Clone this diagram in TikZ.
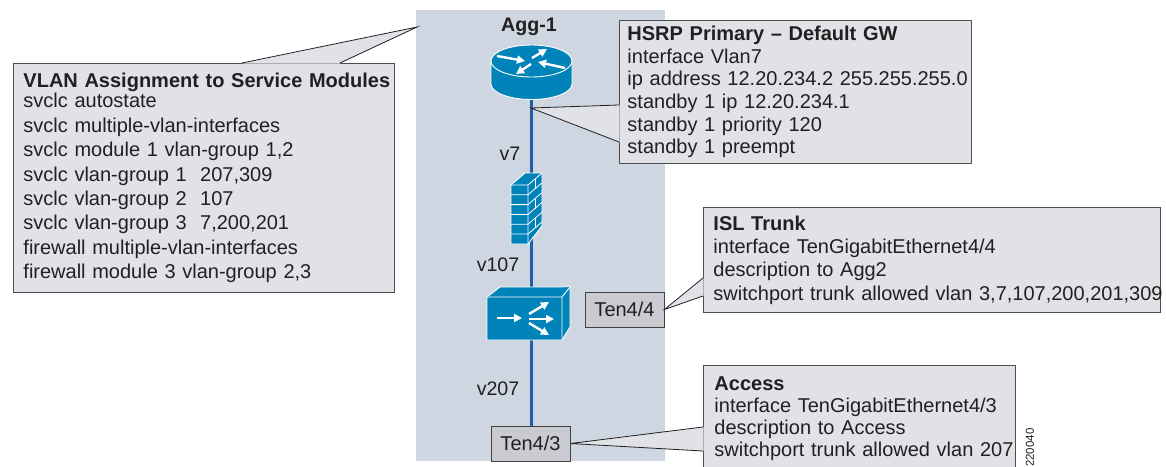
\documentclass[tikz,border=0pt]{standalone}
\usepackage{fontspec}
\setmainfont{Liberation Sans}
\usetikzlibrary{arrows.meta}
\definecolor{panelblue}{HTML}{CED6E2}
\definecolor{notegray}{HTML}{E0E2E8}
\definecolor{portgray}{HTML}{C9CBD1}
\definecolor{iconblue}{HTML}{0083B8}
\definecolor{linkblue}{HTML}{1F5FA8}
\definecolor{inkgray}{HTML}{231F20}

\begin{document}
\begin{tikzpicture}[
    x=1pt, y=-1pt, line join=miter,
    note/.style={rectangle, draw=inkgray!80, line width=0.9pt, fill=notegray, anchor=north west,
        align=left, text=inkgray, inner xsep=10pt, inner ysep=0pt, font=\fontsize{20}{23.4}\selectfont},
    port/.style={rectangle, draw=inkgray!85, line width=0.9pt, fill=portgray, text=inkgray,
        minimum width=79pt, minimum height=35pt, inner sep=0pt, font=\fontsize{20}{22}\selectfont},
    vlan/.style={text=inkgray, inner sep=0pt, font=\fontsize{19.6}{22}\selectfont},
    device/.style={rectangle, draw=none, inner sep=0pt},
    tail/.style={draw=inkgray, line width=0.8pt},
    tailfill/.style={fill=notegray},
    icon/.style={draw=white, line width=0.9pt, fill=iconblue},
    brick/.style={draw=white, line width=0.8pt},
    flow/.style={draw=white, line width=2.4pt, -{Triangle[width=8pt,length=8pt]}}
    ]
    \useasboundingbox (0,0) rectangle (1166,466);
    \fill[panelblue] (416,10) rectangle (665,461);

    \node (Agg) [vlan, font=\fontsize{19.6}{22}\bfseries\selectfont] at (529,27) {Agg-1};
    \node (Router) [device, minimum width=81pt, minimum height=55pt] at (531.5,72.5) {};
    \node (Firewall) [device, minimum width=31pt, minimum height=71pt] at (526.5,208.5) {};
    \node (Switch) [device, minimum width=83pt, minimum height=53pt] at (528.5,313.5) {};

    \node (VlanNote) [note, minimum width=381pt, minimum height=229pt, text width=361pt,
        font=\fontsize{20}{24.4}\selectfont] at (13,63) {%
        \mbox{\textbf{VLAN Assignment to Service Modules}}\\[-4pt]
        svclc autostate\\
        svclc multiple-vlan-interfaces\\
        svclc module 1 vlan-group 1,2\\
        svclc vlan-group 1\ \ 207,309\\
        svclc vlan-group 2\ \ 107\\
        svclc vlan-group 3\ \ 7,200,201\\
        firewall multiple-vlan-interfaces\\
        firewall module 3 vlan-group 2,3};
    \node (HsrpNote) [note, minimum width=352pt, minimum height=143pt, text width=336pt, inner xsep=8pt,
        font=\fontsize{20}{22.6}\selectfont] at (619,20) {%
        \textbf{HSRP Primary -- Default GW}\\
        interface Vlan7\\
        \mbox{ip address 12.20.234.2 255.255.255.0}\\
        standby 1 ip 12.20.234.1\\
        standby 1 priority 120\\
        standby 1 preempt};
    \node (IslNote) [note, minimum width=457pt, minimum height=105pt, text width=437pt] at (703,207) {%
        \textbf{ISL Trunk}\\
        interface TenGigabitEthernet4/4\\
        description to Agg2\\
        \mbox{switchport trunk allowed vlan 3,7,107,200,201,309}};
    \node (AccessNote) [note, minimum width=312pt, minimum height=106pt, text width=290pt, inner xsep=11pt,
        font=\fontsize{20}{22}\selectfont] at (703,365) {%
        \textbf{Access}\\
        interface TenGigabitEthernet4/3\\
        description to Access\\
        \mbox{switchport trunk allowed vlan 207}};

    \node (Port44) [port] at (624.5,309.5) {Ten4/4};
    \node (Port43) [port] at (530.5,443.5) {Ten4/3};

    \draw[linkblue, line width=3.6pt] (Router.center) -- (Firewall.center -| Router.center)
        -- (Switch.center -| Router.center) -- (Port43.north -| Router.center);

    \coordinate (VlanTip) at (417,27);
    \coordinate (HsrpTip) at (531,108);
    \coordinate (IslTip) at (Port44.east);
    \coordinate (AccessTip) at (Port43.east);

    % callout tails
    \fill[tailfill] (242,63.6) -- (VlanTip) -- (340,63.6) -- cycle;
    \draw[tail] (242,63) -- (VlanTip) -- (340,63);
    \fill[tailfill] (619.6,105) -- (HsrpTip) -- (619.6,142) -- cycle;
    \draw[tail] (619,105) -- (HsrpTip) -- (619,142);
    \fill[tailfill] (703.6,278) -- (IslTip) -- (703.6,296) -- cycle;
    \draw[tail] (703,278) -- (IslTip) -- (703,296);
    \fill[tailfill] (703.6,427) -- (AccessTip) -- (703.6,451) -- cycle;
    \draw[tail] (703,427) -- (AccessTip) -- (703,451);

    \node (V7) [vlan] at (510,154) {v7};
    \node (V107) [vlan] at (498,265) {v107};
    \node (V207) [vlan] at (498,389) {v207};

    % router
    \draw[icon] (491,61) -- (491,84) arc[start angle=180, end angle=360, x radius=40.5pt, y radius=15.5pt]
        -- (572,61);
    \draw[icon] (531.5,61) ellipse[x radius=40.5pt, y radius=16pt];
    \draw[flow] (497,56) -- (525,61);
    \draw[flow] (532,58) -- (547,49);
    \draw[flow] (565,68) -- (538,62);
    \draw[flow] (531,64) -- (516,74);

    % firewall
    \draw[icon] (511,185) -- (525,173) -- (542,173) -- (542,226) -- (528,244) -- (511,244) -- cycle;
    \draw[brick] (511,185) -- (528,185) -- (542,173) (528,185) -- (528,244);
    \foreach \row in {1,...,5} {
        \draw[brick] (511,185+\row*9.8) -- (528,185+\row*9.8) -- (542,173+\row*9.8);
    }
    \foreach \row in {0,2,4} {
        \draw[brick] (535,179+\row*9.8) -- (535,189+\row*9.8);
    }

    % switch
    \draw[icon] (487,297) -- (500,287) -- (570,287) -- (570,327) -- (562,340) -- (487,340) -- cycle;
    \draw[icon] (487,297) -- (562,297) -- (570,287) (562,297) -- (562,340);
    \draw[flow] (497,318) -- (522,318);
    \draw[flow] (529,314) -- (549,302);
    \draw[flow] (529,319) -- (554,319);
    \draw[flow] (529,323) -- (549,335);

    \node (FigureId) [rotate=90, anchor=west, text=inkgray, inner sep=0pt,
        font=\fontsize{11.5}{14}\selectfont] at (1030,467) {220040};
\end{tikzpicture}
\end{document}
